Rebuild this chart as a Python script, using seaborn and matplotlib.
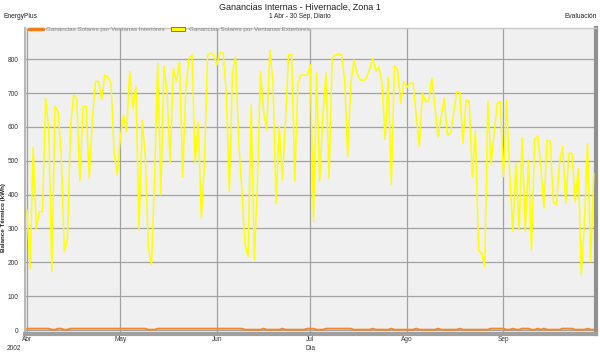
import numpy as np
import pandas as pd
import matplotlib
matplotlib.use("Agg")
import matplotlib.pyplot as plt
from matplotlib.lines import Line2D
from matplotlib.patches import Patch
import seaborn as sns

sns.set_theme(style="white")
plt.rcParams['font.family'] = ['Liberation Sans', 'DejaVu Sans']

# ---------------- data ----------------
fechas = pd.date_range("2002-04-01", "2002-09-30", freq="D")

ext_abr = [355, 182, 540, 300, 350, 350, 685, 590, 172, 660, 645, 520, 232, 270, 600,
           695, 680, 440, 660, 660, 448, 620, 734, 734, 680, 753, 747, 730, 522, 458]
ext_may = [571, 635, 586, 763, 655, 719, 296, 619, 512, 241, 192, 450, 788, 399, 780, 700,
           495, 773, 734, 793, 453, 709, 803, 813, 493, 613, 330, 493, 813, 818, 813]
ext_jun = [783, 820, 818, 700, 409, 763, 806, 552, 414, 256, 217, 665, 207, 433, 763,
           645, 591, 828, 729, 374, 601, 443, 616, 813, 813, 441, 729, 753, 753, 753]
ext_jul = [783, 320, 759, 438, 630, 759, 448, 803, 813, 815, 813, 739, 512, 729, 798, 759,
           739, 737, 744, 770, 803, 765, 778, 729, 562, 747, 429, 780, 770, 670, 734]
ext_ago = [717, 729, 729, 630, 542, 700, 675, 675, 744, 660, 571, 630, 685, 576, 581, 640,
           704, 701, 552, 680, 675, 453, 588, 236, 227, 187, 675, 488, 581, 670, 675]
ext_sep = [453, 680, 463, 291, 493, 296, 567, 291, 502, 236, 562, 573, 483, 360, 560,
           557, 379, 369, 493, 542, 374, 522, 522, 379, 478, 163, 315, 552, 202, 463]
exteriores = ext_abr + ext_may + ext_jun + ext_jul + ext_ago + ext_sep

int_abr = [4, 4, 4, 4, 4, 4, 4, 4, 1, 1, 4, 4, 1, 1, 4, 4, 4, 4, 4, 4, 4, 4, 4, 4, 4, 4, 4, 4, 4, 4]
int_may = [4, 4, 4, 4, 4, 4, 4, 4, 4, 1, 1, 1, 4, 4, 4, 4, 4, 4, 4, 4, 4, 4, 4, 4, 4, 4, 4, 4, 4, 4, 4]
int_jun = [4, 4, 4, 4, 4, 4, 4, 4, 4, 1, 1, 1, 1, 1, 1, 4, 1, 1, 1, 1, 1, 4, 1, 1, 1, 1, 1, 1, 1, 4]
int_jul = [4, 4, 1, 1, 1, 4, 4, 4, 4, 4, 4, 4, 4, 4, 1, 1, 1, 1, 1, 1, 4, 1, 1, 1, 1, 1, 4, 1, 1, 1, 1]
int_ago = [1, 1, 1, 4, 1, 1, 1, 1, 1, 1, 4, 1, 1, 1, 1, 1, 1, 4, 1, 1, 1, 1, 1, 1, 1, 1, 1, 4, 4, 4, 4]
int_sep = [4, 1, 1, 4, 1, 1, 4, 4, 4, 1, 1, 4, 1, 4, 1, 1, 1, 1, 1, 4, 4, 4, 4, 1, 1, 1, 1, 4, 1, 1]
interiores = int_abr + int_may + int_jun + int_jul + int_ago + int_sep

meses = ["Abr", "May", "Jun", "Jul", "Ago", "Sep"]
inicio_meses = pd.date_range("2002-04-01", periods=6, freq="MS")
yticks = [0, 100, 200, 300, 400, 500, 600, 700, 800]

serie_int = "Ganancias Solares por Ventanas Interiores"
serie_ext = "Ganancias Solares por Ventanas Exteriores"

df = pd.DataFrame({"Fecha": fechas, "Interiores": interiores, "Exteriores": exteriores})

# ---------------- figure ----------------
W, H = 600, 354
fig = plt.figure(figsize=(W / 100, H / 100), dpi=100)
fig.patch.set_facecolor("white")
ax = fig.add_axes([25 / W, 1 - 334 / H, 571 / W, 306 / H])
ax.set_facecolor("#f0f0f0")

sns.lineplot(data=df, x="Fecha", y="Interiores", color="#f0882a", lw=1.4, ax=ax, zorder=3)
sns.lineplot(data=df, x="Fecha", y="Exteriores", color="#ffff00", lw=1.1, ax=ax, zorder=4)

x0 = fechas[0] - pd.Timedelta(hours=15)
x1 = fechas[-1] + pd.Timedelta(hours=17)
ax.set_xlim(x0, x1)
ax.set_ylim(-11.8, 892)

ax.set_xticks(inicio_meses)
ax.set_xticklabels(meses)
ax.set_yticks(yticks)
ax.set_yticklabels([str(v) for v in yticks])
ax.grid(True, color="#a2a2a2", lw=0.9, zorder=1)
ax.set_axisbelow(True)
ax.tick_params(axis="x", labelsize=4.7, length=0, pad=1.5)
ax.tick_params(axis="y", labelsize=4.7, length=3, color="#999999", pad=1.5)
for lab in ax.get_xticklabels() + ax.get_yticklabels():
    lab.set_color("#333333")

ax.set_xlabel("")
ax.set_ylabel("")

ax.spines["left"].set_color("#b8b8b8")
ax.spines["left"].set_linewidth(1.5)
ax.spines["top"].set_color("#c8c8c8")
ax.spines["top"].set_linewidth(1.0)
ax.spines["right"].set_color("#909090")
ax.spines["right"].set_linewidth(3)
ax.spines["bottom"].set_color("#a0a0a0")
ax.spines["bottom"].set_linewidth(3)

handles = [Line2D([0], [0], color="#f07d1a", lw=2.5),
           Patch(facecolor="#ffff00", edgecolor="#707000", lw=0.6)]
leg = ax.legend(handles, [serie_int, serie_ext], loc="upper left", bbox_to_anchor=(0.0, 1.015),
                ncol=2, frameon=False, fontsize=4.5, handlelength=2.2, handleheight=0.5,
                columnspacing=1.0, handletextpad=0.6, borderaxespad=0.2)
for t in leg.get_texts():
    t.set_color("#8a8a8a")

# texts
fig.text(300 / W, 1 - 7 / H, "Ganancias Internas - Hivernacle, Zona 1", ha="center", va="center",
         fontsize=6.5, color="#222222")
fig.text(300 / W, 1 - 17 / H, "1 Abr - 30 Sep, Diario", ha="center", va="center",
         fontsize=4.7, color="#222222")
fig.text(3 / W, 1 - 17 / H, "EnergyPlus", ha="left", va="center", fontsize=4.8, color="#222222")
fig.text(597 / W, 1 - 17 / H, "Evaluación", ha="right", va="center", fontsize=4.8, color="#222222")
fig.text(4 / W, 1 - 218 / H, "Balance Térmico (kWh)", ha="center", va="center", rotation=90,
         fontsize=4.5, color="#222222", fontweight="bold")
fig.text(14 / W, 1 - 348 / H, "2002", ha="center", va="center", fontsize=4.7, color="#333333")
fig.text(311 / W, 1 - 348 / H, "Día", ha="center", va="center", fontsize=4.7, color="#333333")

fig.savefig("out.png", dpi=100)
